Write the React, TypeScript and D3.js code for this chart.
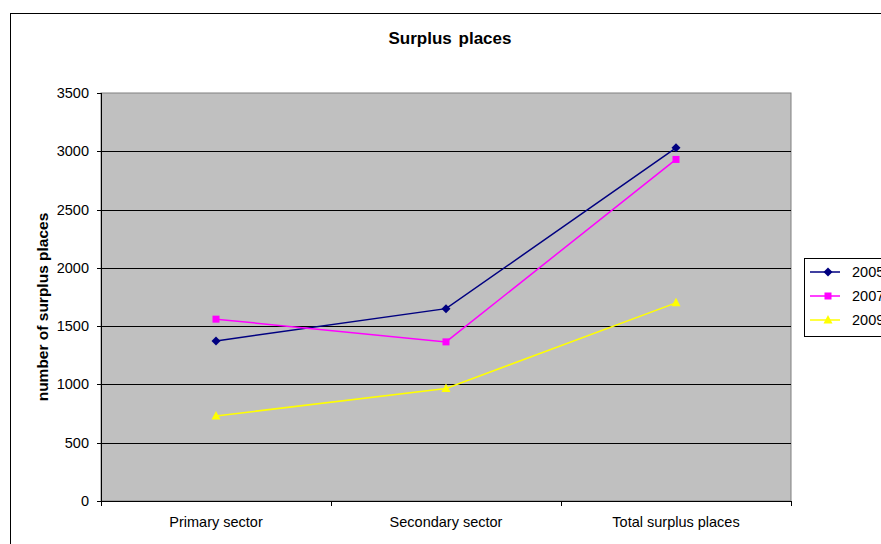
import React from "react";
import * as d3 from "d3";

const categories = ["Primary sector", "Secondary sector", "Total surplus places"];
const seriesNames = ["2005", "2007", "2009"];
const values2005 = [1373, 1650, 3030];
const values2007 = [1560, 1365, 2930];
const values2009 = [730, 965, 1700];
const yTicks = [0, 500, 1000, 1500, 2000, 2500, 3000, 3500];

const colors = ["#000080", "#FF00FF", "#FFFF00"];
const allSeries = [values2005, values2007, values2009];

function Marker({ kind, x, y, color }: { kind: number; x: number; y: number; color: string }) {
  if (kind === 0) {
    const r = 4.5;
    return <path d={`M${x},${y - r}L${x + r},${y}L${x},${y + r}L${x - r},${y}Z`} fill={color} />;
  }
  if (kind === 1) {
    return <rect x={x - 3.5} y={y - 3.5} width={7} height={7} fill={color} />;
  }
  return <path d={`M${x},${y - 5}L${x + 4.5},${y + 3.5}L${x - 4.5},${y + 3.5}Z`} fill={color} />;
}

export default function App() {
  const W = 881, H = 544;
  const left = 101, right = 791, top = 93, bottom = 501;
  const x = d3.scaleBand<string>().domain(categories).range([left, right]);
  const y = d3.scaleLinear().domain([0, 3500]).range([bottom, top]);
  const line = d3.line<number>().x((_, i) => x(categories[i])! + x.bandwidth() / 2).y((d) => y(d));
  const font = "'Liberation Sans', Arial, sans-serif";
  return (
    <svg width={W} height={H} style={{ position: "absolute", left: 0, top: 0, fontFamily: font }}>
      <rect x={0} y={0} width={W} height={H} fill="#fff" />
      <rect x={10.5} y={13.5} width={W + 10} height={H + 10} fill="none" stroke="#000" strokeWidth={1} />
      <text x={450} y={44} textAnchor="middle" fontSize={17} fontWeight="bold" wordSpacing={2}>Surplus places</text>
      <rect x={left} y={top} width={right - left} height={bottom - top} fill="#C0C0C0" stroke="#808080" strokeWidth={1} />
      {yTicks.map((t) => (
        <g key={t}>
          {t > 0 && t < 3500 && <line x1={left} x2={right} y1={Math.round(y(t)) + 0.5} y2={Math.round(y(t)) + 0.5} stroke="#000" />}
          <line x1={left - 4} x2={left} y1={Math.round(y(t)) + 0.5} y2={Math.round(y(t)) + 0.5} stroke="#000" />
          <text x={left - 12} y={y(t) + 5} textAnchor="end" fontSize={14.5}>{t}</text>
        </g>
      ))}
      <line x1={left + 0.5} x2={left + 0.5} y1={top} y2={bottom} stroke="#000" />
      <line x1={left} x2={right} y1={bottom + 0.5} y2={bottom + 0.5} stroke="#000" />
      {[0, 1, 2, 3].map((i) => {
        const xx = left + i * x.bandwidth();
        return <line key={i} x1={Math.round(xx) + 0.5} x2={Math.round(xx) + 0.5} y1={bottom} y2={bottom + 5} stroke="#000" />;
      })}
      {categories.map((c) => (
        <text key={c} x={x(c)! + x.bandwidth() / 2} y={527} textAnchor="middle" fontSize={14.5}>{c}</text>
      ))}
      <text transform={`translate(48,307) rotate(-90)`} textAnchor="middle" fontSize={15.5} fontWeight="bold">number of surplus places</text>
      {allSeries.map((s, k) => (
        <g key={k}>
          <path d={line(s)!} fill="none" stroke={colors[k]} strokeWidth={1.5} />
          {s.map((v, i) => (
            <Marker key={i} kind={k} x={x(categories[i])! + x.bandwidth() / 2} y={y(v)} color={colors[k]} />
          ))}
        </g>
      ))}
      <rect x={804.5} y={258.5} width={100} height={78} fill="#fff" stroke="#000" />
      {seriesNames.map((n, k) => {
        const yy = 272 + k * 24;
        return (
          <g key={n}>
            <line x1={810} x2={840} y1={yy} y2={yy} stroke={colors[k]} strokeWidth={1.5} />
            <Marker kind={k} x={828} y={yy} color={colors[k]} />
            <text x={852} y={yy + 5} fontSize={14.5}>{n}</text>
          </g>
        );
      })}
    </svg>
  );
}
